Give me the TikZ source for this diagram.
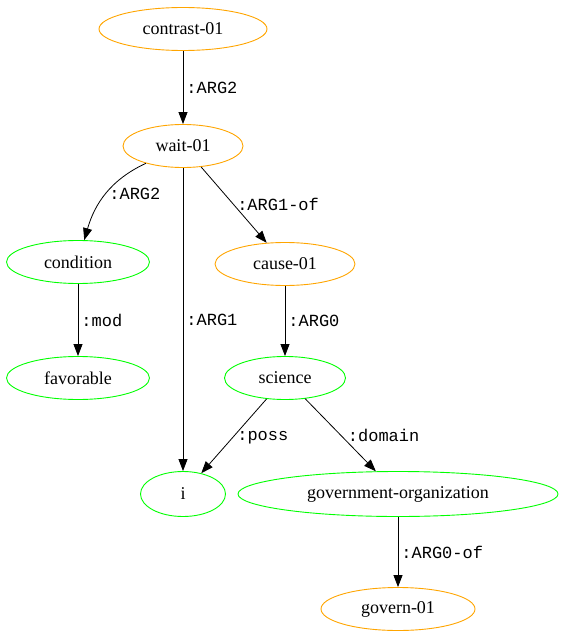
\documentclass[tikz,border=0pt]{standalone}
\usepackage{fontspec}
\setmainfont{Liberation Serif}
\setmonofont{Liberation Mono}
\usetikzlibrary{arrows.meta,shapes.geometric}
\tikzstyle{pred}=[draw=myorange,ellipse,line width=0.9pt,minimum height=43pt,inner sep=0pt,font=\fontsize{18}{20}\selectfont]
\tikzstyle{term}=[draw=mygreen,ellipse,line width=0.9pt,minimum height=43pt,inner sep=0pt,font=\fontsize{18}{20}\selectfont]
\tikzstyle{rel}=[-{Triangle[length=12pt,width=9pt]},line width=0.8pt]
\tikzstyle{role}=[font=\ttfamily\fontsize{17}{20}\selectfont,inner sep=3pt]
\definecolor{myorange}{RGB}{255,165,0}
\definecolor{mygreen}{RGB}{0,255,0}

\begin{document}
\begin{tikzpicture}[x=1pt,y=-1pt]
\useasboundingbox (0,0) rectangle (565,639);
\draw (183, 29) node [pred, minimum width=168pt] (contrast) {contrast-01};
\draw (183, 146) node [pred, minimum width=120pt] (wait) {wait-01};
\draw (78, 262) node [term, minimum width=143pt] (cond) {condition};
\draw (285, 264) node [pred, minimum width=140pt] (cause) {cause-01};
\draw (78, 378) node [term, minimum width=143pt] (fav) {favorable};
\draw (285, 378) node [term, minimum width=121pt] (sci) {science};
\draw (183, 494) node [term, minimum width=85pt, minimum height=45pt] (i) {i};
\draw (398, 494) node [term, minimum width=320pt, minimum height=45pt] (govorg) {government-organization};
\draw (398, 609) node [pred, minimum width=154pt] (govern) {govern-01};
\draw[rel] (contrast) -- (wait) node[role, midway, right] {:ARG2};
\draw[rel] (wait) to[out=205, in=74] node[role, midway, right] {:ARG2} (cond);
\draw[rel] (wait) -- (i) node[role, midway, right] {:ARG1};
\draw[rel] (wait) -- (cause) node[role, midway, right] {:ARG1-of};
\draw[rel] (cond) -- (fav) node[role, midway, right] {:mod};
\draw[rel] (cause) -- (sci) node[role, midway, right] {:ARG0};
\draw[rel] (sci) -- (i) node[role, midway, right, yshift=-2pt] {:poss};
\draw[rel] (sci) -- (govorg) node[role, midway, right, xshift=4pt] {:domain};
\draw[rel] (govorg) -- (govern) node[role, midway, right] {:ARG0-of};
\end{tikzpicture}
\end{document}
